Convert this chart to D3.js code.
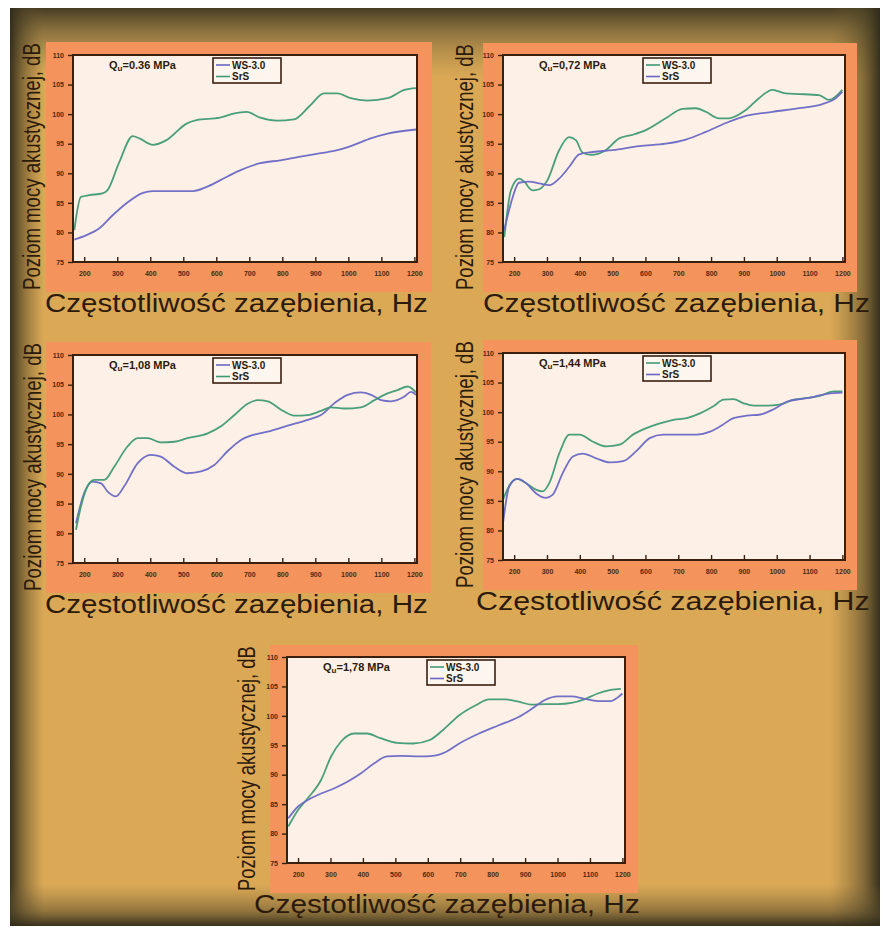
<!DOCTYPE html>
<html>
<head>
<meta charset="utf-8">
<script src="https://cdn.jsdelivr.net/npm/d3@7"></script>
<style>
  html, body { margin: 0; padding: 0; background: #ffffff; }
  svg { display: block; }
  text { font-family: "Liberation Sans", Arial, "DejaVu Sans", sans-serif; }
</style>
</head>
<body>
<svg id="chart" width="884" height="928"></svg>
<script>
// ---- data ---------------------------------------------------------------
const xTicks = [200, 300, 400, 500, 600, 700, 800, 900, 1000, 1100, 1200];
const yTicks = [75, 80, 85, 90, 95, 100, 105, 110];
const seriesNames = ["WS-3.0", "SrS"];
const loadLabels = ["0.36", "0,72", "1,08", "1,44", "1,78"];
const yAxisTitle = "Poziom mocy akustycznej, dB";
const xAxisTitle = "Częstotliwość zazębienia, Hz";

// [Hz, dB] pairs for each load level
const ws036 = [[170,78.8],[205,79.5],[246,80.7],[286,82.9],[327,84.9],[378,86.7],[408,87.0],[459,87.0],[530,87.0],[571,87.7],[611,88.8],[672,90.5],[733,91.7],[794,92.2],[855,92.8],[916,93.4],[967,93.9],[1017,94.8],[1068,95.9],[1119,96.7],[1205,97.4]];
const srs036 = [[170,80.4],[190,86.0],[215,86.3],[255,86.6],[270,87.1],[305,91.7],[347,96.3],[367,95.9],[408,94.8],[449,95.6],[510,98.4],[540,99.0],[611,99.4],[652,100.1],[692,100.4],[733,99.4],[784,98.9],[835,99.1],[885,101.5],[926,103.5],[967,103.5],[1007,102.7],[1058,102.3],[1119,102.7],[1170,104.1],[1205,104.4]];

const ws072 = [[170,79.2],[190,87.1],[215,89.1],[230,88.6],[256,87.1],[276,87.3],[301,88.8],[337,93.9],[367,96.1],[388,95.6],[408,93.5],[433,93.1],[479,93.9],[520,95.9],[560,96.5],[601,97.3],[662,99.3],[713,100.9],[753,101.0],[784,100.4],[824,99.3],[855,99.3],[906,100.7],[946,102.7],[987,104.1],[1027,103.5],[1068,103.4],[1129,103.2],[1159,102.4],[1200,104.1]];
const srs072 = [[170,80.4],[190,84.9],[215,88.4],[246,88.6],[276,88.3],[307,88.0],[337,89.1],[368,91.1],[398,93.2],[439,93.6],[500,93.9],[581,94.6],[662,95.0],[723,95.7],[784,97.0],[845,98.5],[906,99.7],[987,100.4],[1068,101.0],[1139,101.7],[1180,102.7],[1200,103.8]];

const ws108 = [[175,81.7],[200,86.8],[225,88.7],[251,88.4],[271,87.0],[296,86.2],[321,87.9],[362,91.8],[402,93.2],[432,92.9],[473,91.2],[513,90.1],[554,90.4],[594,91.5],[634,93.8],[675,95.7],[715,96.6],[756,97.1],[816,98.1],[877,99.1],[917,99.9],[958,101.9],[998,103.3],[1038,103.7],[1069,103.3],[1099,102.4],[1129,102.2],[1170,103.0],[1190,103.8],[1205,103.3]];
const srs108 = [[175,80.6],[190,84.5],[210,87.9],[230,89.0],[261,89.0],[291,91.2],[331,94.6],[362,96.0],[392,96.0],[432,95.3],[473,95.4],[513,96.0],[574,96.8],[614,98.0],[655,99.9],[695,101.8],[725,102.4],[756,102.2],[796,100.8],[836,99.8],[877,99.9],[917,100.6],[947,101.2],[988,101.0],[1038,101.2],[1079,102.4],[1109,103.3],[1149,104.1],[1180,104.7],[1205,103.7]];

const ws144 = [[166,85.2],[190,88.0],[210,88.7],[236,88.0],[266,86.9],[287,86.6],[307,88.0],[338,93.1],[368,96.2],[399,96.2],[440,95.0],[481,94.2],[521,94.5],[562,96.2],[603,97.3],[644,98.1],[685,98.7],[726,99.0],[766,99.8],[807,101.0],[838,102.1],[868,102.2],[899,101.5],[930,101.1],[970,101.1],[1011,101.3],[1052,102.1],[1093,102.4],[1134,102.8],[1174,103.5],[1200,103.5]];
const srs144 = [[166,81.2],[185,87.4],[210,88.7],[236,88.0],[266,86.3],[297,85.5],[317,86.0],[348,89.7],[379,92.5],[409,93.0],[450,92.2],[491,91.5],[532,91.7],[572,93.4],[613,95.6],[654,96.2],[705,96.2],[756,96.2],[797,96.7],[828,97.6],[868,99.0],[909,99.4],[950,99.6],[991,100.5],[1032,101.8],[1072,102.2],[1113,102.6],[1154,103.1],[1200,103.3]];

const ws178 = [[170,81.2],[200,84.0],[230,86.0],[271,89.1],[302,93.1],[332,95.6],[373,97.0],[413,97.0],[454,96.2],[505,95.4],[555,95.3],[606,95.9],[647,97.6],[697,100.1],[748,101.8],[789,102.8],[840,102.8],[880,102.4],[921,101.9],[961,102.0],[1002,102.0],[1043,102.2],[1083,102.8],[1124,103.8],[1164,104.4],[1195,104.6]];
const srs178 = [[170,82.6],[200,84.6],[230,85.7],[271,86.8],[312,87.7],[352,88.8],[393,90.2],[434,91.9],[474,93.1],[515,93.2],[576,93.1],[616,93.2],[657,93.9],[697,95.3],[758,97.0],[819,98.4],[880,99.8],[921,101.2],[961,102.7],[1002,103.3],[1043,103.3],[1083,102.9],[1124,102.5],[1164,102.5],[1185,103.1],[1200,103.8]];

const wsSeries = [ws036, ws072, ws108, ws144, ws178];
const srsSeries = [srs036, srs072, srs108, srs144, srs178];

// ---- layout & style -----------------------------------------------------
const GREEN = "#3f9a74";
const BLUE = "#6a68c4";
const INK = "#2c1a0b";
const FRAME = "#3a1f0f";

// plot: [left, top, right, bottom]; card: orange backing panel
const layout = [
  { plot: [73, 55, 417, 262],  card: [46, 42, 432, 292],  yl: 40,  x0: 45,  x1: 428, wsGreen: false },
  { plot: [503, 55, 845, 262], card: [483, 43, 857, 292], yl: 473, x0: 483, x1: 870, wsGreen: true },
  { plot: [73, 355, 417, 563], card: [46, 342, 431, 593], yl: 41,  x0: 45,  x1: 428, wsGreen: false },
  { plot: [503, 353, 845, 560],card: [483, 340, 857, 590],yl: 473, x0: 476, x1: 870, wsGreen: true },
  { plot: [287, 657, 625, 863],card: [270, 645, 638, 893],yl: 255, x0: 254, x1: 640, wsGreen: true }
];

const svg = d3.select("#chart");
const defs = svg.append("defs");

// ---- vignetted backdrop -------------------------------------------------
const BX = 10, BY = 8, BW = 870, BH = 918;
svg.append("rect").attr("x", BX).attr("y", BY).attr("width", BW).attr("height", BH).attr("fill", "#dba956");

function edgeGrad(id, x1, y1, x2, y2, stops) {
  const g = defs.append("linearGradient").attr("id", id)
    .attr("x1", x1).attr("y1", y1).attr("x2", x2).attr("y2", y2);
  stops.forEach(s => g.append("stop").attr("offset", s[0]).attr("stop-color", s[1]).attr("stop-opacity", s[2]));
}
edgeGrad("gTop", 0, 0, 0, 1, [[0, "#3e3620", 0.95], [0.35, "#5e5230", 0.6], [1, "#8a7440", 0]]);
edgeGrad("gLeft", 0, 0, 1, 0, [[0, "#2e2a18", 0.95], [0.4, "#4a4024", 0.55], [1, "#6e5c30", 0]]);
edgeGrad("gRight", 1, 0, 0, 0, [[0, "#2e2a18", 0.95], [0.35, "#4f4526", 0.6], [1, "#7a6638", 0]]);
edgeGrad("gBottom", 0, 1, 0, 0, [[0, "#2e2a18", 0.95], [0.35, "#54482a", 0.55], [1, "#7a6638", 0]]);

svg.append("rect").attr("x", BX).attr("y", BY).attr("width", BW).attr("height", 70).attr("fill", "url(#gTop)");
svg.append("rect").attr("x", BX).attr("y", BY).attr("width", 34).attr("height", BH).attr("fill", "url(#gLeft)");
svg.append("rect").attr("x", BX + BW - 50).attr("y", BY).attr("width", 50).attr("height", BH).attr("fill", "url(#gRight)");
svg.append("rect").attr("x", BX).attr("y", BY + BH - 42).attr("width", BW).attr("height", 42).attr("fill", "url(#gBottom)");

// fit a text element to a given run length by scaling along its baseline
function fitText(sel, baseTransform, length) {
  const natural = sel.node().getComputedTextLength();
  sel.attr("transform", `${baseTransform} scale(${length / natural},1)`);
}

// ---- panels -------------------------------------------------------------
layout.forEach((L, i) => {
  const [pl, pt, pr, pb] = L.plot;
  const [cl, ct, cr, cb] = L.card;
  const g = svg.append("g");

  g.append("rect").attr("x", cl).attr("y", ct).attr("width", cr - cl).attr("height", cb - ct)
    .attr("fill", "#f4945c");

  const x = d3.scaleLinear().domain([166, 1208]).range([pl, pr]);
  const y = d3.scaleLinear().domain([75, 110]).range([pb, pt]);

  g.append("rect").attr("x", pl).attr("y", pt).attr("width", pr - pl).attr("height", pb - pt)
    .attr("fill", "#fdf1e7");

  // series
  const line = d3.line().x(d => x(d[0])).y(d => y(d[1])).curve(d3.curveMonotoneX);
  const wsColor = L.wsGreen ? GREEN : BLUE;
  const srsColor = L.wsGreen ? BLUE : GREEN;
  const clipId = "clip" + i;
  defs.append("clipPath").attr("id", clipId).append("rect")
    .attr("x", pl).attr("y", pt).attr("width", pr - pl).attr("height", pb - pt);
  const lines = g.append("g").attr("clip-path", `url(#${clipId})`);
  [[wsSeries[i], wsColor], [srsSeries[i], srsColor]].forEach(([data, color]) => {
    lines.append("path").datum(data).attr("d", line)
      .attr("fill", "none").attr("stroke", color).attr("stroke-width", 1.8)
      .attr("stroke-linejoin", "round").attr("stroke-opacity", 0.95);
  });

  // axes
  const xAxis = g.append("g").attr("transform", `translate(0,${pb})`)
    .call(d3.axisBottom(x).tickValues(xTicks).tickSize(-5).tickPadding(9).tickFormat(d3.format("d")));
  const yAxis = g.append("g").attr("transform", `translate(${pl},0)`)
    .call(d3.axisLeft(y).tickValues(yTicks).tickSize(5).tickPadding(4).tickFormat(d3.format("d")));
  [xAxis, yAxis].forEach(a => {
    a.select(".domain").remove();
    a.selectAll(".tick line").attr("stroke", FRAME).attr("stroke-width", 1.4);
    a.selectAll(".tick text").attr("fill", "#4a2a12").attr("font-size", 7).attr("font-weight", "bold")
      .style("font-family", "'Liberation Sans', Arial, sans-serif");
  });

  // frame
  g.append("rect").attr("x", pl).attr("y", pt).attr("width", pr - pl).attr("height", pb - pt)
    .attr("fill", "none").attr("stroke", FRAME).attr("stroke-width", 2);

  // load label
  const t = g.append("text").attr("x", pl + 36).attr("y", pt + 14)
    .attr("fill", INK).attr("font-weight", "bold").attr("font-size", 11);
  t.append("tspan").text("Q");
  t.append("tspan").attr("font-size", 8).attr("dy", 2).text("u");
  t.append("tspan").attr("dy", -2).text(`=${loadLabels[i]} MPa`);

  // legend
  const lx = pl + 140, ly = pt + 3;
  const lg = g.append("g");
  lg.append("rect").attr("x", lx).attr("y", ly).attr("width", 68).attr("height", 25)
    .attr("fill", "#fdf6ef").attr("stroke", FRAME).attr("stroke-width", 1.6);
  [[seriesNames[0], wsColor], [seriesNames[1], srsColor]].forEach(([name, color], k) => {
    const ry = ly + 7 + k * 11.5;
    lg.append("line").attr("x1", lx + 3).attr("x2", lx + 17).attr("y1", ry).attr("y2", ry)
      .attr("stroke", color).attr("stroke-width", 1.6);
    lg.append("text").attr("x", lx + 19).attr("y", ry + 3.5).attr("fill", INK)
      .attr("font-size", 10).attr("font-weight", "bold").text(name);
  });

  // axis titles
  const xt = g.append("text").attr("fill", INK).attr("font-size", 26).text(xAxisTitle);
  fitText(xt, `translate(${L.x0},${pb + 50})`, L.x1 - L.x0);

  const y0 = cb - 2, y1 = ct + 1;
  const yt = g.append("text").attr("fill", INK).attr("font-size", 24).text(yAxisTitle);
  fitText(yt, `translate(${L.yl},${y0}) rotate(-90)`, y0 - y1);
});
</script>
</body>
</html>
